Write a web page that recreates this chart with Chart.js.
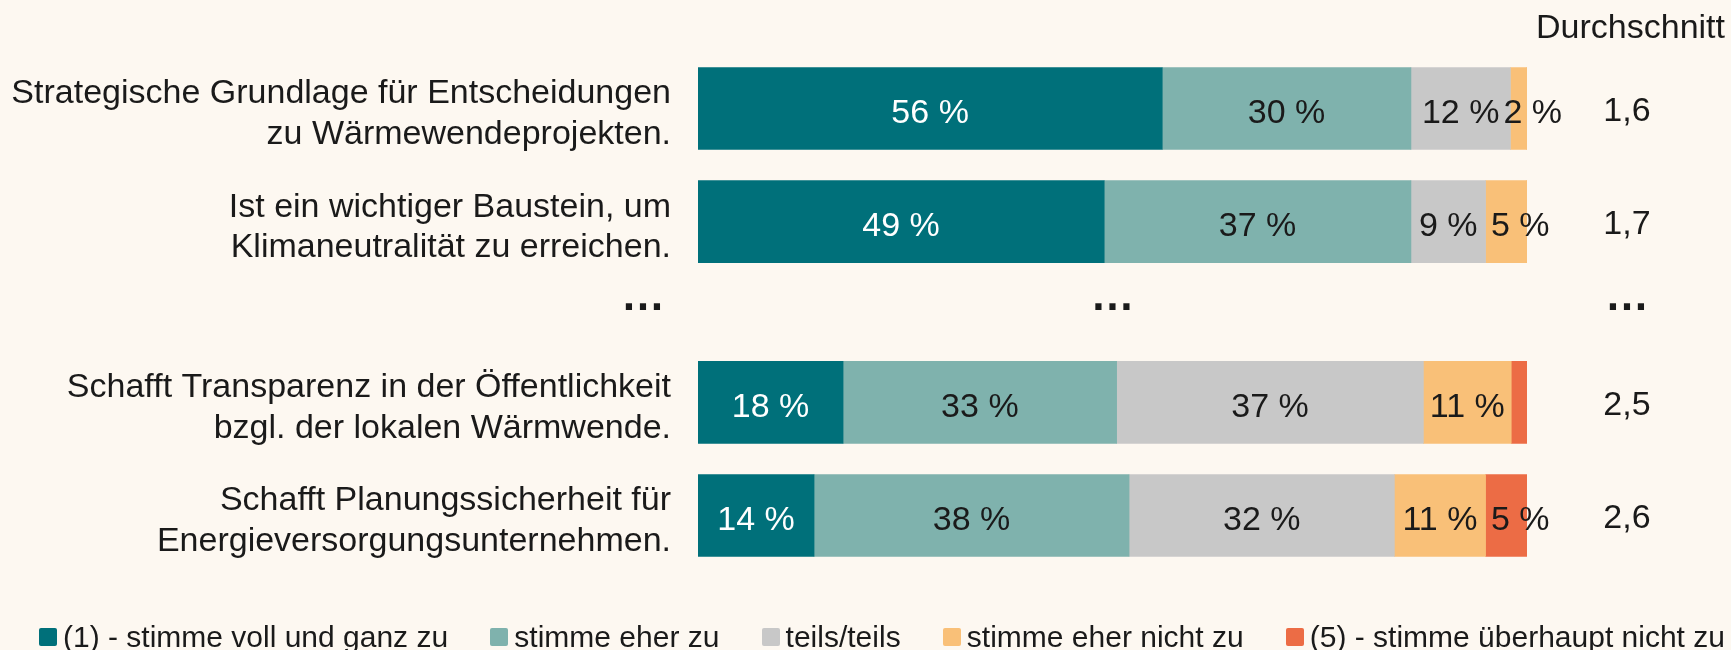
<!DOCTYPE html>
<html lang="de">
<head>
<meta charset="utf-8">
<title>Kommunale Wärmeplanung – Zustimmung</title>
<script src="https://cdn.jsdelivr.net/npm/chart.js@4.4.1/dist/chart.umd.min.js"></script>
<style>
  html, body { margin: 0; padding: 0; background: #fdf8f1; }
  #wrap { position: relative; width: 1731px; height: 650px; }
  #legend {
    position: absolute; left: 39px; width: 1686px; top: 618px; height: 38px;
    display: flex; justify-content: space-between; align-items: center;
    font: 30px "Liberation Sans", Arial, sans-serif; color: #1a1a1a; white-space: nowrap;
  }
  #legend .item { display: flex; align-items: center; }
  #legend .box { width: 18px; height: 18px; border-radius: 2px; margin-right: 6px; }
</style>
</head>
<body>
<div id="wrap">
  <canvas id="chart" width="1731" height="650"></canvas>
  <div id="legend"></div>
</div>
<script>
// Aussagen (zweizeilig wie im Original)
var rowLabels = [
    ['Strategische Grundlage für Entscheidungen', 'zu Wärmewendeprojekten.'],
    ['Ist ein wichtiger Baustein, um', 'Klimaneutralität zu erreichen.'],
    ['Schafft Transparenz in der Öffentlichkeit', 'bzgl. der lokalen Wärmwende.'],
    ['Schafft Planungssicherheit für', 'Energieversorgungsunternehmen.']
];
// Lage der Zeilen auf der y-Achse; zwischen Zeile 2 und 3 liegt die Auslassung
var rowPos = [0, 1, 2.6, 3.6];
var gapPos = 1.8;

var seriesNames = [
    '(1) - stimme voll und ganz zu',
    'stimme eher zu',
    'teils/teils',
    'stimme eher nicht zu',
    '(5) - stimme überhaupt nicht zu'
];
// Anteile in %
var voll      = [56, 49, 17.5, 14];
var eher      = [30, 37, 33, 38];
var teils     = [12, 9, 37, 32];
var eherNicht = [2, 5, 10.6, 11];
var garNicht  = [0, 0, 1.9, 5];
var averages  = ['1,6', '1,7', '2,5', '2,6'];

var colors = ['#00707a', '#7fb2ad', '#c8c8c8', '#f9c078', '#ec6c45'];
var FONT = '"Liberation Sans", Arial, sans-serif';

function points(values) {
    return values.map(function (v, i) { return { x: v, y: rowPos[i] }; });
}

var series = [voll, eher, teils, eherNicht, garNicht];
var datasets = series.map(function (values, d) {
    return {
        label: seriesNames[d],
        data: points(values),
        backgroundColor: colors[d],
        borderWidth: 0,
        barThickness: 82
    };
});

// Prozentwerte in den Balken, Durchschnitt rechts, Auslassungspunkte
var textPlugin = {
    id: 'texte',
    afterDatasetsDraw: function (chart) {
        var ctx = chart.ctx;
        var yScale = chart.scales.y;
        var xScale = chart.scales.x;
        var area = chart.chartArea;
        ctx.save();
        ctx.font = '34px ' + FONT;
        ctx.textBaseline = 'middle';
        ctx.textAlign = 'center';
        chart.data.datasets.forEach(function (ds, d) {
            var meta = chart.getDatasetMeta(d);
            meta.data.forEach(function (bar, i) {
                var v = ds.data[i].x;
                if (v < 2) return;
                var p = bar.getProps(['x', 'base', 'y'], true);
                var txt = Math.round(v) + ' %';
                var w = ctx.measureText(txt).width;
                var cx = (p.x + p.base) / 2;
                if (w > Math.abs(p.x - p.base)) cx += 14;
                ctx.fillStyle = d === 0 ? '#ffffff' : '#1a1a1a';
                ctx.fillText(txt, cx, p.y + 5);
            });
        });

        // Durchschnitt
        var avgX = area.right + 100;
        ctx.fillStyle = '#1a1a1a';
        averages.forEach(function (a, i) {
            ctx.fillText(a, avgX, yScale.getPixelForValue(rowPos[i]) + 3);
        });
        ctx.textAlign = 'right';
        ctx.fillText('Durchschnitt', chart.width - 6, 29);

        // ...
        var gy = yScale.getPixelForValue(gapPos) - 2;
        ctx.font = 'bold 44px ' + FONT;
        ctx.textBaseline = 'alphabetic';
        ctx.textAlign = 'right';
        ctx.fillText('…', area.left - 33, gy);
        ctx.textAlign = 'center';
        ctx.fillText('…', xScale.getPixelForValue(50), gy);
        ctx.fillText('…', avgX, gy);
        ctx.restore();
    }
};

var chart = new Chart(document.getElementById('chart'), {
    type: 'bar',
    data: { datasets: datasets },
    options: {
        indexAxis: 'y',
        responsive: false,
        animation: false,
        layout: { padding: { top: 52, bottom: 78, left: 0, right: 204 } },
        scales: {
            x: { type: 'linear', stacked: true, min: 0, max: 100, display: false },
            y: {
                type: 'linear',
                stacked: true,
                reverse: true,
                offset: false,
                min: -0.5,
                max: 4.1,
                grid: { display: false, drawTicks: false },
                border: { display: false },
                afterBuildTicks: function (scale) {
                    scale.ticks = rowPos.map(function (v) { return { value: v }; });
                },
                afterFit: function (scale) {
                    // Breite der Beschriftungsspalte fest, keine Zusatzränder oben/unten
                    scale.width = 698;
                    scale.paddingTop = 0;
                    scale.paddingBottom = 0;
                },
                ticks: {
                    autoSkip: false,
                    padding: 27,
                    labelOffset: 6,
                    color: '#1a1a1a',
                    font: { family: FONT, size: 34, lineHeight: 1.2 },
                    callback: function (value) {
                        var i = rowPos.indexOf(value);
                        return i < 0 ? '' : rowLabels[i];
                    }
                }
            }
        },
        plugins: {
            legend: { display: false },
            tooltip: { enabled: false }
        }
    },
    plugins: [textPlugin]
});

// Legende unter dem Diagramm
var legend = document.getElementById('legend');
chart.data.datasets.forEach(function (ds) {
    var item = document.createElement('div');
    item.className = 'item';
    var box = document.createElement('span');
    box.className = 'box';
    box.style.background = ds.backgroundColor;
    var label = document.createElement('span');
    label.textContent = ds.label;
    item.appendChild(box);
    item.appendChild(label);
    legend.appendChild(item);
});
</script>
</body>
</html>
